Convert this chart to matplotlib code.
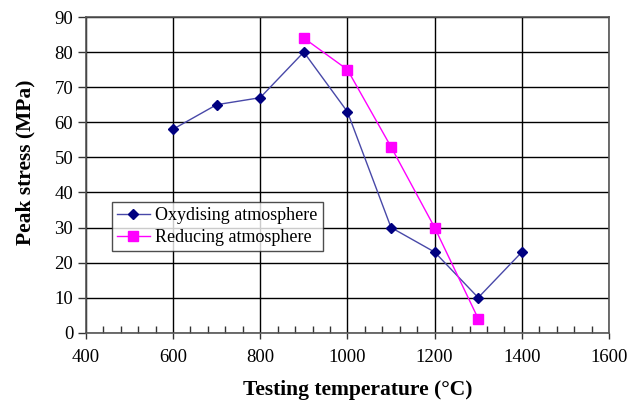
import matplotlib.pyplot as plt
from matplotlib.ticker import MultipleLocator

# peak stress vs testing temperature
temp_ox = [600, 700, 800, 900, 1000, 1100, 1200, 1300, 1400]
stress_ox = [58, 65, 67, 80, 63, 30, 23, 10, 23]
temp_red = [900, 1000, 1100, 1200, 1300]
stress_red = [84, 75, 53, 30, 4]

plt.rcParams['font.family'] = ['Liberation Serif', 'DejaVu Serif']

fig = plt.figure(figsize=(6.29, 4.01), dpi=100)
ax = fig.add_axes([0.1363, 0.1702, 0.8320, 0.7874])

ax.plot(temp_ox, stress_ox, color='#4848a8', lw=1.0, marker='D', ms=5.5,
        mfc='#000080', mec='#000080', label='Oxydising atmosphere', zorder=3)
ax.plot(temp_red, stress_red, color='#ff00ff', lw=1.0, marker='s', ms=7,
        mfc='#ff00ff', mec='#ff00ff', label='Reducing atmosphere', zorder=3)

ax.set_xlim(400, 1600)
ax.set_ylim(0, 90)
ax.xaxis.set_major_locator(MultipleLocator(200))
ax.xaxis.set_minor_locator(MultipleLocator(40))
ax.yaxis.set_major_locator(MultipleLocator(10))
ax.grid(True, which='major', color='black', lw=1.0)
ax.set_axisbelow(True)

ax.tick_params(axis='y', which='major', direction='out', length=6,
               width=1.0, labelsize=13.5, color='#333333', pad=3)
ax.tick_params(axis='x', which='major', direction='out', length=4,
               width=1.0, labelsize=13.5, color='#333333', pad=8)
ax.tick_params(axis='x', which='minor', direction='in', length=5,
               width=1.0, color='#333333')
for s in ax.spines.values():
    s.set_color('#555555')
    s.set_linewidth(1.2)

ax.set_xlabel('Testing temperature (°C)', fontsize=15.5, fontweight='bold',
              labelpad=10, x=0.52)
ax.set_ylabel('Peak stress (MPa)', fontsize=15.5, fontweight='bold',
              labelpad=14, y=0.54)

leg = ax.legend(loc='upper left', bbox_to_anchor=(0.0497, 0.414), fontsize=13,
                frameon=True, fancybox=False, edgecolor='#222222',
                borderpad=0.3, labelspacing=0.25, handlelength=1.8,
                handletextpad=0.3, borderaxespad=0)
leg.get_frame().set_linewidth(1.0)

fig.savefig('out.png', dpi=100, facecolor='white')
